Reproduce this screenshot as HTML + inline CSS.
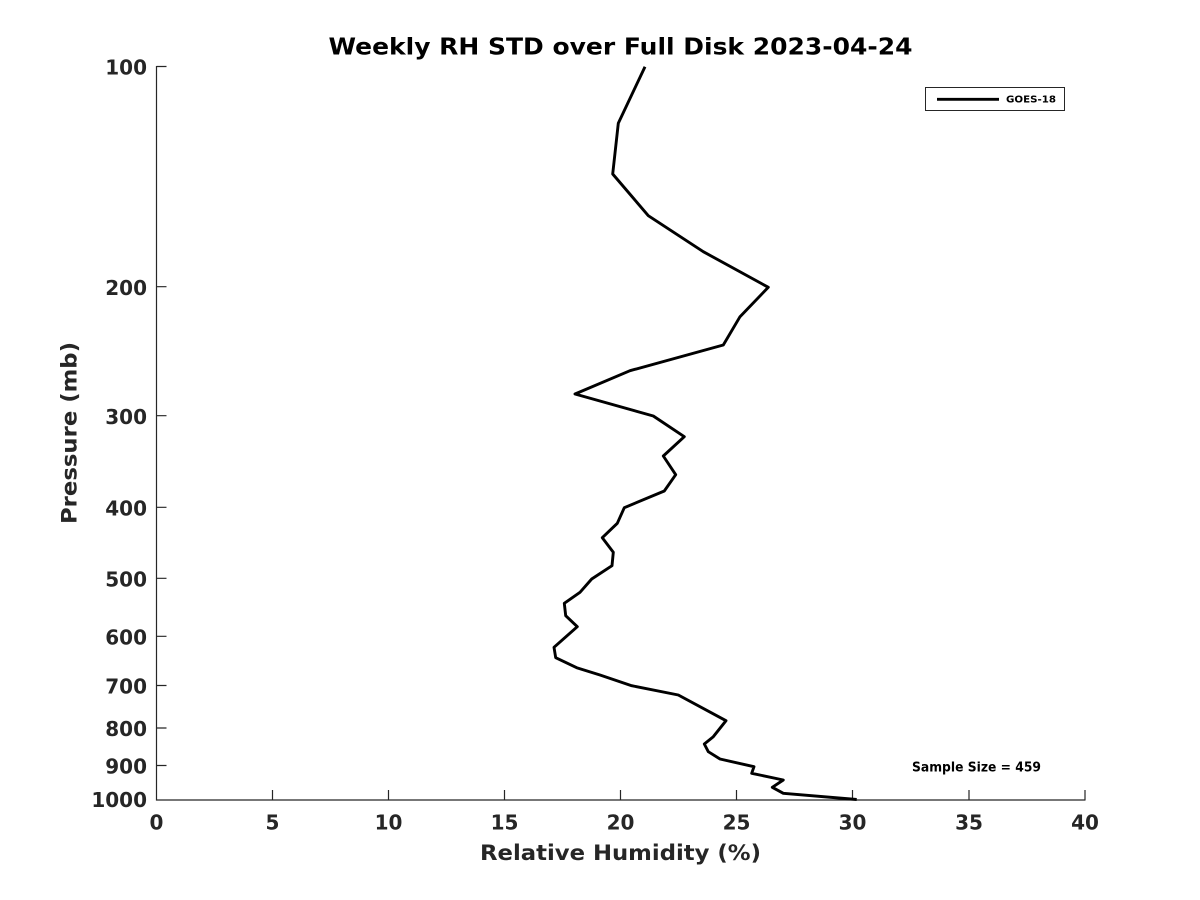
<!DOCTYPE html>
<html>
<head>
<meta charset="utf-8">
<style>
html,body{margin:0;padding:0;background:#fff;}
svg{display:block;}
text{font-family:"DejaVu Sans","Liberation Sans",sans-serif;font-weight:bold;}
</style>
</head>
<body>
<svg width="1200" height="900" viewBox="0 0 1200 900" xmlns="http://www.w3.org/2000/svg">
<rect width="1200" height="900" fill="#fff"/>
<!-- axes -->
<g stroke="#262626" stroke-width="1.2" fill="none">
<path d="M156.5,66 L156.5,800 L1085.5,800"/>
<!-- y ticks -->
<path d="M156.5,66.5h10 M156.5,286.7h10 M156.5,415.7h10 M156.5,507.3h10 M156.5,578.3h10 M156.5,636.3h10 M156.5,685.5h10 M156.5,728h10 M156.5,765.5h10"/>
<!-- x ticks -->
<path d="M272.5,800v-10 M388.5,800v-10 M504.5,800v-10 M620.5,800v-10 M736.5,800v-10 M852.5,800v-10 M969,800v-10 M1085,800v-10"/>
</g>
<!-- y tick labels -->
<g fill="#262626" font-size="20" text-anchor="end">
<text x="147" y="74.5">100</text>
<text x="147" y="295">200</text>
<text x="147" y="424">300</text>
<text x="147" y="515.5">400</text>
<text x="147" y="586.5">500</text>
<text x="147" y="644.5">600</text>
<text x="147" y="693.5">700</text>
<text x="147" y="736">800</text>
<text x="147" y="773.5">900</text>
<text x="147" y="807">1000</text>
</g>
<!-- x tick labels -->
<g fill="#262626" font-size="20" text-anchor="middle">
<text x="156.5" y="829.5">0</text>
<text x="272.5" y="829.5">5</text>
<text x="388.5" y="829.5">10</text>
<text x="504.5" y="829.5">15</text>
<text x="620.5" y="829.5">20</text>
<text x="736.5" y="829.5">25</text>
<text x="852.5" y="829.5">30</text>
<text x="969" y="829.5">35</text>
<text x="1085" y="829.5">40</text>
</g>
<!-- title -->
<text x="620.5" y="54.3" font-size="23" text-anchor="middle" fill="#000" textLength="584" lengthAdjust="spacingAndGlyphs">Weekly RH STD over Full Disk 2023-04-24</text>
<!-- x label -->
<text x="620.5" y="860" font-size="21.5" text-anchor="middle" fill="#262626" textLength="281" lengthAdjust="spacingAndGlyphs">Relative Humidity (%)</text>
<!-- y label -->
<text transform="translate(76.5,433) rotate(-90)" x="0" y="0" font-size="21.5" text-anchor="middle" fill="#262626" textLength="182" lengthAdjust="spacingAndGlyphs">Pressure (mb)</text>
<!-- data -->
<polyline fill="none" stroke="#000" stroke-width="2.9" stroke-linejoin="round" points="645,66.7 618.3,123.3 612.7,174 648.3,215.7 703.3,251.7 768.3,287.3 740,316.7 723.3,345 630,370.7 575,394 653.3,416 684.3,436.7 663.3,456 675.7,474.7 664.3,491 624.3,507.7 617.3,523.3 602.3,537.7 613.3,552.3 612,565.7 591.7,579 580,592.3 564.3,603.3 565.7,615.7 577.3,626.7 554,647.3 555.7,657.7 576.7,667.7 600,675 631.7,685.7 678.3,695 726,720.7 713.3,736.7 704.3,744 708.3,751.7 720,759 754,766.7 751.7,773.3 783.3,780 772.3,787.3 783.3,793.3 856.7,799.5"/>
<!-- legend -->
<rect x="925.5" y="87.5" width="139" height="23" fill="#fff" stroke="#262626" stroke-width="1"/>
<line x1="937" y1="99.3" x2="999" y2="99.3" stroke="#000" stroke-width="2.9"/>
<text x="1006" y="102.5" font-size="9.5" fill="#000" textLength="50" lengthAdjust="spacingAndGlyphs">GOES-18</text>
<!-- sample size -->
<text x="912" y="771.7" font-size="13" fill="#000" textLength="129" lengthAdjust="spacingAndGlyphs">Sample Size = 459</text>
</svg>
</body>
</html>
